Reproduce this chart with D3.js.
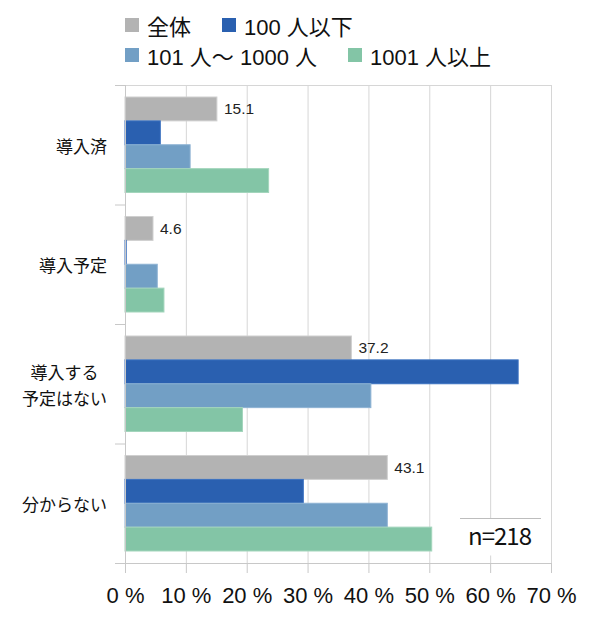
<!DOCTYPE html>
<html><head><meta charset="utf-8">
<script src="https://cdn.jsdelivr.net/npm/d3@7"></script>
<style>
html,body{margin:0;padding:0;background:#fff;}
svg{display:block;font-family:"Liberation Sans","Noto Sans CJK JP",sans-serif;}
</style></head>
<body><svg id="c" width="590" height="619"></svg>
<script>
const categories = [["導入済"],["導入予定"],["導入する","予定はない"],["分からない"]];
const seriesNames = ["全体","100 人以下","101 人〜 1000 人","1001 人以上"];
const seriesColors = ["#b3b3b3","#2a60b0","#729fc5","#83c5a6"];
const seriesStroke = ["#cfcfcf","#3a70c0","#8db2d3","#a3d5bc"];
const zentai = [15.1, 4.6, 37.2, 43.1];
const under100 = [5.8, 0.2, 64.6, 29.3];
const mid101to1000 = [10.7, 5.3, 40.4, 43.1];
const over1001 = [23.6, 6.4, 19.3, 50.4];
const xTicks = [0,10,20,30,40,50,60,70];
const sampleNote = "n=218";

const seriesValues = [zentai, under100, mid101to1000, over1001];
const svg = d3.select("#c");
const pL = 125, pR = 551, pT = 85, pB = 563;

const x = d3.scaleLinear().domain([0,70]).range([pL,pR]);
const y0 = d3.scaleBand().domain(d3.range(categories.length)).range([pT,pB]);
const y1 = d3.scaleBand().domain(d3.range(seriesNames.length)).range([12, y0.bandwidth()-12]);

// grid
svg.append("g").selectAll("line").data(xTicks.slice(1)).join("line")
  .attr("x1",d=>x(d)+0.5).attr("x2",d=>x(d)+0.5).attr("y1",pT).attr("y2",pB)
  .attr("stroke","#d6d6d6").attr("stroke-width",1);
svg.append("line").attr("x1",pL-10).attr("x2",pR+0.5).attr("y1",pT+0.5).attr("y2",pT+0.5)
  .attr("stroke","#d6d6d6");

// bars
const g = svg.append("g");
categories.forEach((c,ci)=>{
  seriesValues.forEach((vals,si)=>{
    g.append("rect")
      .attr("x",x(0)).attr("y",y0(ci)+y1(si))
      .attr("width",Math.max(x(vals[ci])-x(0),0)).attr("height",y1.bandwidth())
      .attr("fill",seriesColors[si]).attr("stroke",seriesStroke[si]).attr("stroke-width",1);
  });
  g.append("text").attr("x",x(zentai[ci])+7).attr("y",y0(ci)+y1(0)+y1.bandwidth()/2+5.5)
    .attr("font-size",15.5).attr("fill","#222").text(zentai[ci].toFixed(1));
});

// left axis
svg.append("line").attr("x1",pL+0.5).attr("x2",pL+0.5).attr("y1",pT).attr("y2",pB)
  .attr("stroke","#c8c8c8");
svg.append("g").selectAll("line").data(d3.range(categories.length+1)).join("line")
  .attr("x1",pL-10).attr("x2",pL)
  .attr("y1",d=>(d<categories.length? y0(d):pB)+0.5).attr("y2",d=>(d<categories.length? y0(d):pB)+0.5)
  .attr("stroke","#c8c8c8");

// category labels
categories.forEach((lines,ci)=>{
  const cy = y0(ci)+y0.bandwidth()/2 + 2;
  const t = svg.append("g");
  const lh = 25.6;
  const texts = lines.map((l,li)=> t.append("text").attr("font-size",17).attr("fill","#111")
     .attr("y", cy + (li-(lines.length-1)/2)*lh + 6).text(l));
  const widths = texts.map(tt=>tt.node().getComputedTextLength());
  const maxW = d3.max(widths);
  const cx = 107 - maxW/2;
  texts.forEach(tt=>tt.attr("x",cx).attr("text-anchor","middle"));
});

// bottom axis
const xa = svg.append("g").attr("transform",`translate(0,${pB})`)
  .call(d3.axisBottom(x).tickValues(xTicks).tickSize(10).tickFormat(d=>d+" %"));
xa.select(".domain").remove();
xa.selectAll(".tick line").attr("stroke","#c8c8c8");
xa.selectAll(".tick text").attr("font-size",22).attr("fill","#111").attr("dy","1.22em")
  .attr("font-family","Liberation Sans, sans-serif");
svg.append("line").attr("x1",pL-10).attr("x2",pR+0.5).attr("y1",pB+0.5).attr("y2",pB+0.5)
  .attr("stroke","#c8c8c8");

// note box
const nb = svg.append("g");
nb.append("rect").attr("x",460).attr("y",518.5).attr("width",81).attr("height",37).attr("fill","#fff");
nb.append("line").attr("x1",460).attr("x2",541).attr("y1",518.5).attr("y2",518.5).attr("stroke","#bdbdbd");
nb.append("text").attr("x",500).attr("y",545).attr("text-anchor","middle").attr("font-size",24)
  .attr("fill","#111").attr("font-family","Noto Sans CJK JP, sans-serif").attr("textLength",64).text(sampleNote);

// legend
const legPos = [[125,18],[222,18],[125,48],[348,48]];
seriesNames.forEach((n,i)=>{
  const [lx,ly] = legPos[i];
  svg.append("rect").attr("x",lx).attr("y",ly).attr("width",14).attr("height",14).attr("fill",seriesColors[i]);
  svg.append("text").attr("x",lx+22).attr("y",ly+17).attr("font-size",22).attr("fill","#111").text(n);
});
</script></body></html>
